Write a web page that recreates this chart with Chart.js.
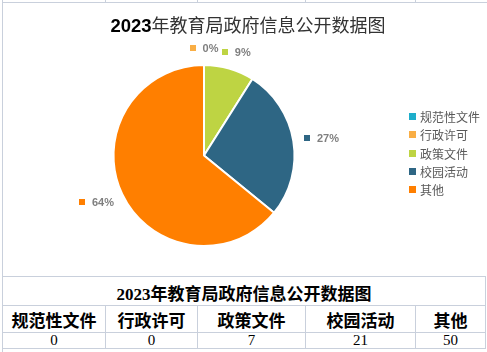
<!DOCTYPE html>
<html>
<head>
<meta charset="utf-8">
<script src="https://cdn.jsdelivr.net/npm/chart.js@4/dist/chart.umd.min.js"></script>
<style>
  body { margin: 0; width: 487px; height: 352px; background: #fff; position: relative; overflow: hidden; }
  .ln { position: absolute; background: #c9d0dc; }
  #box { position: absolute; left: 4px; top: 4px; width: 480px; height: 271px; background: #fff; }
  #box canvas { position: absolute; left: 0; top: 0; }
  #title { position: absolute; left: 0; top: 9px; width: 488px; text-align: center; font-size: 18px; color: #333;
           font-family: "Noto Sans CJK SC", sans-serif; line-height: 22px; }
  #title b { font-family: "Liberation Sans", Arial, sans-serif; font-size: 18.5px; color: #000; }
  table { position: absolute; left: 2px; top: 276px; border-collapse: collapse; table-layout: fixed; }
  td { border: 1px solid #c9d0dc; padding: 0; text-align: center; color: #000;
       font-family: "Liberation Serif", "Noto Sans CJK SC", serif; line-height: 1; }
  .t td { font-size: 17px; font-weight: bold; padding-top: 6px; height: 22px; }
  .h td { height: 26px; font-size: 17px; font-weight: bold; font-family: "Noto Sans CJK SC", serif; }
  .v td { height: 15px; font-size: 15px; }
</style>
</head>
<body>
<div class="ln" style="left:2px;top:0;width:1px;height:352px"></div>
<div class="ln" style="left:2px;top:2px;width:485px;height:1px"></div>
<div class="ln" style="left:105px;top:0;width:1px;height:3px"></div>
<div class="ln" style="left:197px;top:0;width:1px;height:3px"></div>
<div class="ln" style="left:305px;top:0;width:1px;height:3px"></div>
<div class="ln" style="left:415px;top:0;width:1px;height:3px"></div>

<div id="box">
  <canvas id="pie" width="480" height="271"></canvas>
  <div id="title"><b>2023</b>年教育局政府信息公开数据图</div>
</div>

<table id="tbl">
  <colgroup><col style="width:103px"><col style="width:92px"><col style="width:108px"><col style="width:110px"><col style="width:70px"></colgroup>
  <tr class="t"><td colspan="5" id="tblTitle"></td></tr>
  <tr class="h" id="tblHead"></tr>
  <tr class="v" id="tblVals"></tr>
</table>

<script>
const chartTitle = "2023年教育局政府信息公开数据图";
const categories = ["规范性文件", "行政许可", "政策文件", "校园活动", "其他"];
const counts = [0, 0, 7, 21, 50];
const sliceColors = ["#1eaecb", "#f9ae45", "#bed443", "#2e6684", "#ff7f00"];

// table under the chart
document.getElementById("tblTitle").textContent = chartTitle;
const head = document.getElementById("tblHead");
const vals = document.getElementById("tblVals");
categories.forEach((c, i) => {
  const th = document.createElement("td");
  th.textContent = c;
  head.appendChild(th);
  const td = document.createElement("td");
  td.textContent = counts[i];
  vals.appendChild(td);
});

const total = counts.reduce((a, b) => a + b, 0);

// percent labels outside the slices, with a small colour marker
const outsideLabels = {
  id: "outsideLabels",
  afterDatasetsDraw(chart) {
    const ctx = chart.ctx;
    const arcs = chart.getDatasetMeta(0).data;
    const mids = arcs.map(a => (a.startAngle + a.endAngle) / 2);
    ctx.save();
    ctx.font = "bold 11px 'Liberation Sans', Arial, sans-serif";
    ctx.textBaseline = "middle";
    arcs.forEach((arc, i) => {
      // Excel hides a label that sits on top of the next one
      for (let j = i + 1; j < arcs.length; j++) {
        if (Math.abs(mids[j] - mids[i]) < 0.01) return;
      }
      const text = Math.round(counts[i] / total * 100) + "%";
      const a = mids[i];
      const r = arc.outerRadius + 11;
      const ax = arc.x + Math.cos(a) * r;
      const ay = arc.y + Math.sin(a) * r;
      const w = 7 + 6 + ctx.measureText(text).width;
      const h = 12;
      const cx = ax + Math.cos(a) * w / 2;
      const cy = ay + Math.sin(a) * h / 2;
      const left = cx - w / 2;
      ctx.fillStyle = sliceColors[i];
      ctx.fillRect(Math.round(left), Math.round(cy - 3), 6, 6);
      ctx.fillStyle = "#7f7f7f";
      ctx.textAlign = "left";
      ctx.fillText(text, left + 13, cy + 1);
    });
    ctx.restore();
  }
};

// legend on the right, Excel style
const sideLegend = {
  id: "sideLegend",
  afterDraw(chart) {
    const ctx = chart.ctx;
    const area = chart.chartArea;
    const step = 18.3;
    const x = area.right + 9;
    const y0 = (area.top + area.bottom) / 2 - 3 - step * (categories.length - 1) / 2;
    ctx.save();
    ctx.font = "12px 'Noto Sans CJK SC', sans-serif";
    ctx.textBaseline = "middle";
    ctx.textAlign = "left";
    categories.forEach((c, i) => {
      const y = Math.round(y0 + i * step);
      ctx.fillStyle = sliceColors[i];
      ctx.fillRect(x, y - 3, 7, 7);
      ctx.fillStyle = "#595959";
      ctx.fillText(c, x + 11, y + 1);
    });
    ctx.restore();
  }
};

new Chart(document.getElementById("pie"), {
  type: "pie",
  data: {
    labels: categories,
    datasets: [{
      data: counts,
      backgroundColor: sliceColors,
      borderColor: "#ffffff",
      borderWidth: 2
    }]
  },
  options: {
    responsive: false,
    animation: false,
    layout: { padding: { top: 60, bottom: 28, left: 4, right: 84 } },
    plugins: {
      tooltip: { enabled: false },
      legend: { display: false }
    }
  },
  plugins: [outsideLabels, sideLegend]
});
</script>
</body>
</html>
